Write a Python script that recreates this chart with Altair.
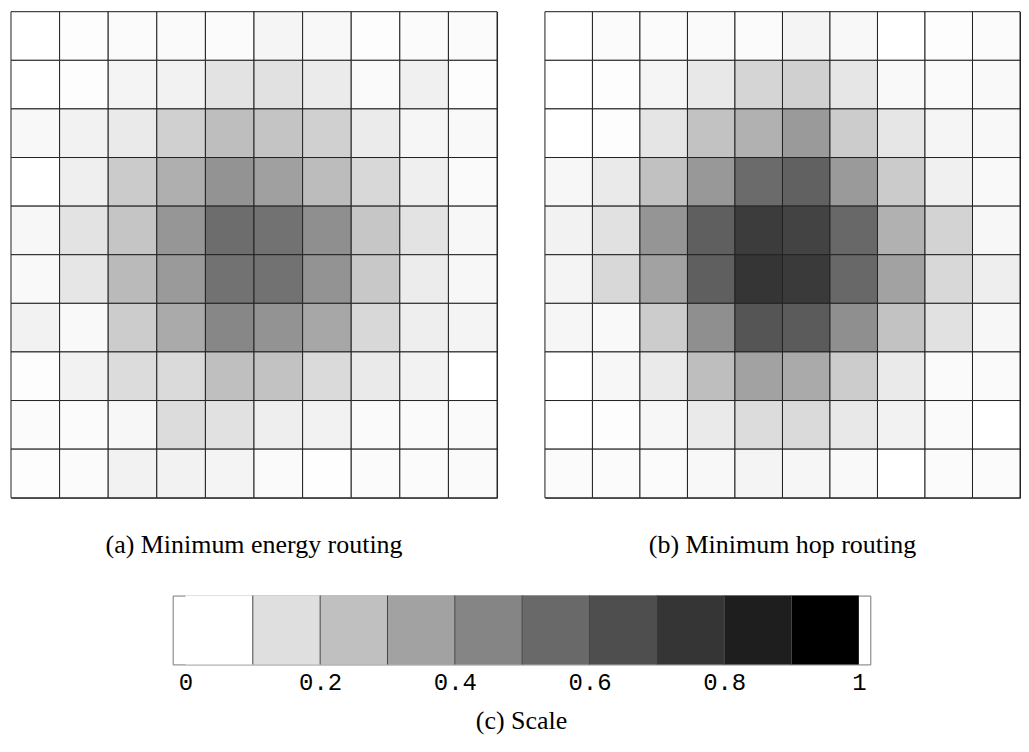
import altair as alt
import pandas as pd

# Cell values (0 = white, 0.9+ = black), row 0 at top, col 0 at left
energy = [
    [0.000, 0.007, 0.011, 0.014, 0.011, 0.032, 0.021, 0.007, 0.011, 0.011],
    [0.000, 0.007, 0.035, 0.042, 0.088, 0.095, 0.064, 0.014, 0.046, 0.007],
    [0.021, 0.039, 0.067, 0.148, 0.208, 0.187, 0.148, 0.064, 0.028, 0.018],
    [0.000, 0.049, 0.166, 0.258, 0.353, 0.307, 0.215, 0.124, 0.049, 0.014],
    [0.025, 0.088, 0.184, 0.342, 0.487, 0.469, 0.364, 0.180, 0.088, 0.025],
    [0.018, 0.078, 0.219, 0.328, 0.469, 0.469, 0.353, 0.173, 0.060, 0.025],
    [0.042, 0.018, 0.162, 0.275, 0.392, 0.353, 0.282, 0.124, 0.053, 0.035],
    [0.007, 0.042, 0.109, 0.116, 0.205, 0.194, 0.116, 0.067, 0.042, 0.000],
    [0.011, 0.011, 0.025, 0.109, 0.095, 0.053, 0.042, 0.014, 0.014, 0.014],
    [0.007, 0.011, 0.039, 0.039, 0.035, 0.014, 0.004, 0.011, 0.011, 0.014],
]

hop = [
    [0.000, 0.011, 0.011, 0.014, 0.011, 0.035, 0.021, 0.000, 0.007, 0.011],
    [0.000, 0.007, 0.032, 0.071, 0.134, 0.148, 0.078, 0.018, 0.014, 0.018],
    [0.000, 0.007, 0.081, 0.194, 0.251, 0.328, 0.162, 0.078, 0.032, 0.021],
    [0.025, 0.067, 0.198, 0.335, 0.494, 0.529, 0.328, 0.166, 0.046, 0.018],
    [0.039, 0.095, 0.346, 0.536, 0.671, 0.646, 0.505, 0.251, 0.138, 0.025],
    [0.035, 0.124, 0.300, 0.536, 0.702, 0.681, 0.505, 0.300, 0.124, 0.053],
    [0.028, 0.018, 0.162, 0.364, 0.575, 0.551, 0.364, 0.194, 0.095, 0.025],
    [0.000, 0.025, 0.067, 0.208, 0.300, 0.272, 0.162, 0.067, 0.014, 0.014],
    [0.000, 0.007, 0.025, 0.067, 0.109, 0.116, 0.071, 0.039, 0.014, 0.000],
    [0.011, 0.011, 0.011, 0.021, 0.035, 0.028, 0.018, 0.000, 0.011, 0.011],
]

scale_starts = [0.0, 0.1, 0.2, 0.3, 0.4, 0.5, 0.6, 0.7, 0.8, 0.9]
scale_ticks = [0, 0.2, 0.4, 0.6, 0.8, 1]

captions = ["(a)  Minimum energy routing", "(b)  Minimum hop routing", "(c) Scale"]

color_scale = alt.Scale(type="linear", domain=[0, 0.9], range=["#ffffff", "#000000"], clamp=True)


def to_df(grid):
    rows = []
    for r, line in enumerate(grid):
        for c, v in enumerate(line):
            rows.append({"row": r, "col": c, "v": v})
    return pd.DataFrame(rows)


def heat(grid, caption, width):
    return (
        alt.Chart(to_df(grid))
        .mark_rect(stroke="#222222", strokeWidth=1)
        .encode(
            x=alt.X("col:O", axis=None, scale=alt.Scale(paddingInner=0, paddingOuter=0)),
            y=alt.Y("row:O", axis=None, scale=alt.Scale(paddingInner=0, paddingOuter=0)),
            color=alt.Color("v:Q", scale=color_scale, legend=None),
        )
        .properties(
            width=width,
            height=487,
            view=alt.ViewBackground(stroke="#222222", strokeWidth=1),
            title=alt.TitleParams(
                caption,
                orient="bottom",
                font="Liberation Serif",
                fontSize=26,
                fontWeight="normal",
                color="black",
                offset=34,
            ),
        )
    )


left = heat(energy, captions[0], 487)
right = heat(hop, captions[1], 476)

sdf = pd.DataFrame({"start": scale_starts, "end": [s + 0.1 for s in scale_starts]})
xs = alt.Scale(domain=[-0.019, 1.017], nice=False, zero=False)

blocks = alt.Chart(sdf).mark_rect().encode(
    x=alt.X(
        "start:Q",
        scale=xs,
        axis=alt.Axis(
            values=scale_ticks,
            format="~g",
            title=None,
            ticks=False,
            domain=False,
            grid=False,
            labelFont="Liberation Mono",
            labelFontSize=24,
            labelColor="black",
            labelPadding=6,
            labelFlush=False,
            labelOverlap=False,
        ),
    ),
    x2="end:Q",
    color=alt.Color("start:Q", scale=color_scale, legend=None),
)

seps = (
    alt.Chart(sdf)
    .transform_filter("datum.start > 0")
    .mark_rule(color="#444444", strokeWidth=1)
    .encode(x=alt.X("start:Q", scale=xs))
)

scale_bar = (
    alt.layer(blocks, seps)
    .properties(
        width=699,
        height=69,
        view=alt.ViewBackground(stroke="#777777", strokeWidth=1),
        title=alt.TitleParams(
            captions[2],
            orient="bottom",
            font="Liberation Serif",
            fontSize=26,
            fontWeight="normal",
            color="black",
            offset=14,
        ),
    )
)

# invisible spacer that shifts the scale bar to the right
spacer = (
    alt.Chart(pd.DataFrame({"a": [0]}))
    .mark_rect(opacity=0)
    .encode(x=alt.value(0), x2=alt.value(1), y=alt.value(0), y2=alt.value(1))
    .properties(width=1, height=69, view=alt.ViewBackground(strokeOpacity=0))
)

top = alt.hconcat(left, right, spacing=46)
bottom = alt.hconcat(spacer, scale_bar, spacing=160)
chart = (
    alt.vconcat(top, bottom, spacing=36)
    .properties(padding={"left": 2, "top": 2, "right": 0, "bottom": 0})
    .configure_view(fill="white")
)

chart.save("out.html", embed_options={"renderer": "svg", "actions": False})
